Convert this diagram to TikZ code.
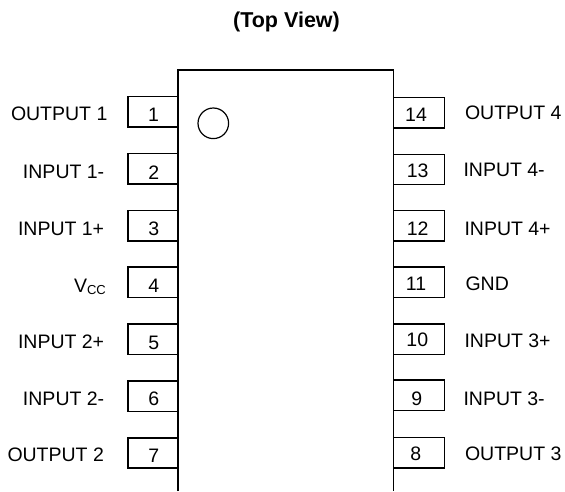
\documentclass[tikz,border=0pt]{standalone}
\usepackage{fontspec}
\setmainfont{Liberation Sans}
\tikzset{
  x=1pt,y=-1pt,
  outline/.style={draw=black,line width=1.2pt},
  txt/.style={inner sep=0pt,outer sep=0pt,anchor=base west,font=\fontsize{19.5}{22}\selectfont,text=black},
  num/.style={inner sep=0pt,outer sep=0pt,anchor=base,font=\fontsize{19.5}{22}\selectfont,text=black},
  ttl/.style={inner sep=0pt,outer sep=0pt,anchor=base,font=\fontsize{21.5}{24}\selectfont\bfseries,text=black},
}
\begin{document}
\begin{tikzpicture}
\useasboundingbox (0,0) rectangle (565,491);
\node[ttl] (title) at (286.5,27) {(Top View)};
% left pins
\draw[outline] (178,96.7) -- (128,96.7) -- (128,127) -- (178,127);
\draw[outline] (178,153.7) -- (128,153.7) -- (128,184) -- (178,184);
\draw[outline] (178,210.3) -- (128,210.3) -- (128,241) -- (178,241);
\draw[outline] (178,267) -- (128,267) -- (128,297.7) -- (178,297.7);
\draw[outline] (178,324) -- (128,324) -- (128,354.7) -- (178,354.7);
\draw[outline] (178,381) -- (128,381) -- (128,411.7) -- (178,411.7);
\draw[outline] (178,438) -- (128,438) -- (128,468) -- (178,468);
% right pins
\draw[outline] (393.3,97.7) -- (444.3,97.7) -- (444.3,128) -- (393.3,128);
\draw[outline] (393.3,154.3) -- (444.3,154.3) -- (444.3,184.7) -- (393.3,184.7);
\draw[outline] (393.3,210.3) -- (444.3,210.3) -- (444.3,241) -- (393.3,241);
\draw[outline] (393.3,267) -- (444.3,267) -- (444.3,297.5) -- (393.3,297.5);
\draw[outline] (393.3,324) -- (444.3,324) -- (444.3,354.7) -- (393.3,354.7);
\draw[outline] (393.3,380) -- (444.3,380) -- (444.3,410.7) -- (393.3,410.7);
\draw[outline] (393.3,437.7) -- (444.3,437.7) -- (444.3,468) -- (393.3,468);
% body
\draw[outline] (178,491) -- (178,70) -- (393.3,70) -- (393.3,491);
\draw[outline] (213.3,123.3) circle (15.3);
% numbers
\node[num] (n1) at (153.5,121.7) {1};
\node[num] (n2) at (153.7,179) {2};
\node[num] (n3) at (153.7,235.7) {3};
\node[num] (n4) at (153.7,292.7) {4};
\node[num] (n5) at (153.7,349) {5};
\node[num] (n6) at (153.7,405.7) {6};
\node[num] (n7) at (153.7,462.7) {7};
\node[num] (n14) at (416,121) {14};
\node[num] (n13) at (417.7,177.3) {13};
\node[num] (n12) at (417.7,235.7) {12};
\node[num] (n11) at (416,290) {11};
\node[num] (n10) at (417.3,346.7) {10};
\node[num] (n9) at (416.7,405) {9};
\node[num] (n8) at (415.7,460.7) {8};
% left labels
\node[txt] (l1) at (11,120.7) {OUTPUT 1};
\node[txt] (l2) at (23,178) {INPUT 1-};
\node[txt] (l3) at (18,235) {INPUT 1+};
\node[txt] (l4) at (74,292.7) {V\raisebox{-2pt}{\fontsize{13}{15}\selectfont CC}};
\node[txt] (l5) at (18,348.3) {INPUT 2+};
\node[txt] (l6) at (23,405) {INPUT 2-};
\node[txt] (l7) at (7.5,461.7) {OUTPUT 2};
% right labels
\node[txt] (r14) at (465,119) {OUTPUT 4};
\node[txt] (r13) at (463.5,176) {INPUT 4-};
\node[txt] (r12) at (464.5,235) {INPUT 4+};
\node[txt] (r11) at (465.5,290) {GND};
\node[txt] (r10) at (464.5,347.3) {INPUT 3+};
\node[txt] (r9) at (463.5,405) {INPUT 3-};
\node[txt] (r8) at (465,460) {OUTPUT 3};
\end{tikzpicture}
\end{document}
